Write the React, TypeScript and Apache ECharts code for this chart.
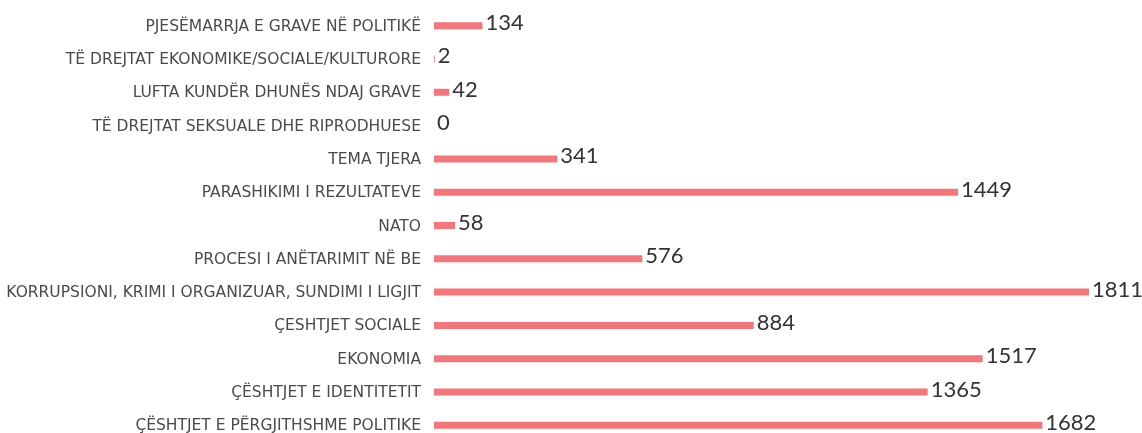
import React, { useEffect, useRef } from "react";
import * as echarts from "echarts";

const categories = [
  "PJESËMARRJA E GRAVE NË POLITIKË",
  "TË DREJTAT EKONOMIKE/SOCIALE/KULTURORE",
  "LUFTA KUNDËR DHUNËS NDAJ GRAVE",
  "TË DREJTAT SEKSUALE DHE RIPRODHUESE",
  "TEMA TJERA",
  "PARASHIKIMI I REZULTATEVE",
  "NATO",
  "PROCESI I ANËTARIMIT NË BE",
  "KORRUPSIONI, KRIMI I ORGANIZUAR, SUNDIMI I LIGJIT",
  "ÇESHTJET SOCIALE",
  "EKONOMIA",
  "ÇËSHTJET E IDENTITETIT",
  "ÇËSHTJET E PËRGJITHSHME POLITIKE",
];
const values = [134, 2, 42, 0, 341, 1449, 58, 576, 1811, 884, 1517, 1365, 1682];

export default function App() {
  const ref = useRef<HTMLDivElement>(null);
  useEffect(() => {
    if (!ref.current) return;
    const chart = echarts.init(ref.current, undefined, { renderer: "svg" });
    chart.setOption({
      animation: false,
      grid: { left: 434, width: 655, top: 9, height: 433, containLabel: false },
      xAxis: {
        type: "value",
        min: 0,
        max: 1811,
        show: false,
      },
      yAxis: {
        type: "category",
        data: categories,
        inverse: true,
        axisLine: { show: false },
        axisTick: { show: false },
        axisLabel: {
          margin: 13,
          color: "#4a4a4a",
          fontSize: 15.5,
          fontFamily: "'DejaVu Sans', sans-serif",
        },
      },
      series: [
        {
          type: "bar",
          data: values,
          barWidth: 7,
          itemStyle: { color: "#f4767a" },
          label: {
            show: true,
            position: "right",
            distance: 3,
            offset: [0, -4],
            color: "#333",
            fontSize: 22,
            fontFamily: "Lato, 'Open Sans', sans-serif",
          },
        },
      ],
    });
    return () => chart.dispose();
  }, []);
  return (
    <div
      ref={ref}
      style={{ position: "fixed", left: 0, top: 0, width: 1142, height: 450 }}
    />
  );
}
